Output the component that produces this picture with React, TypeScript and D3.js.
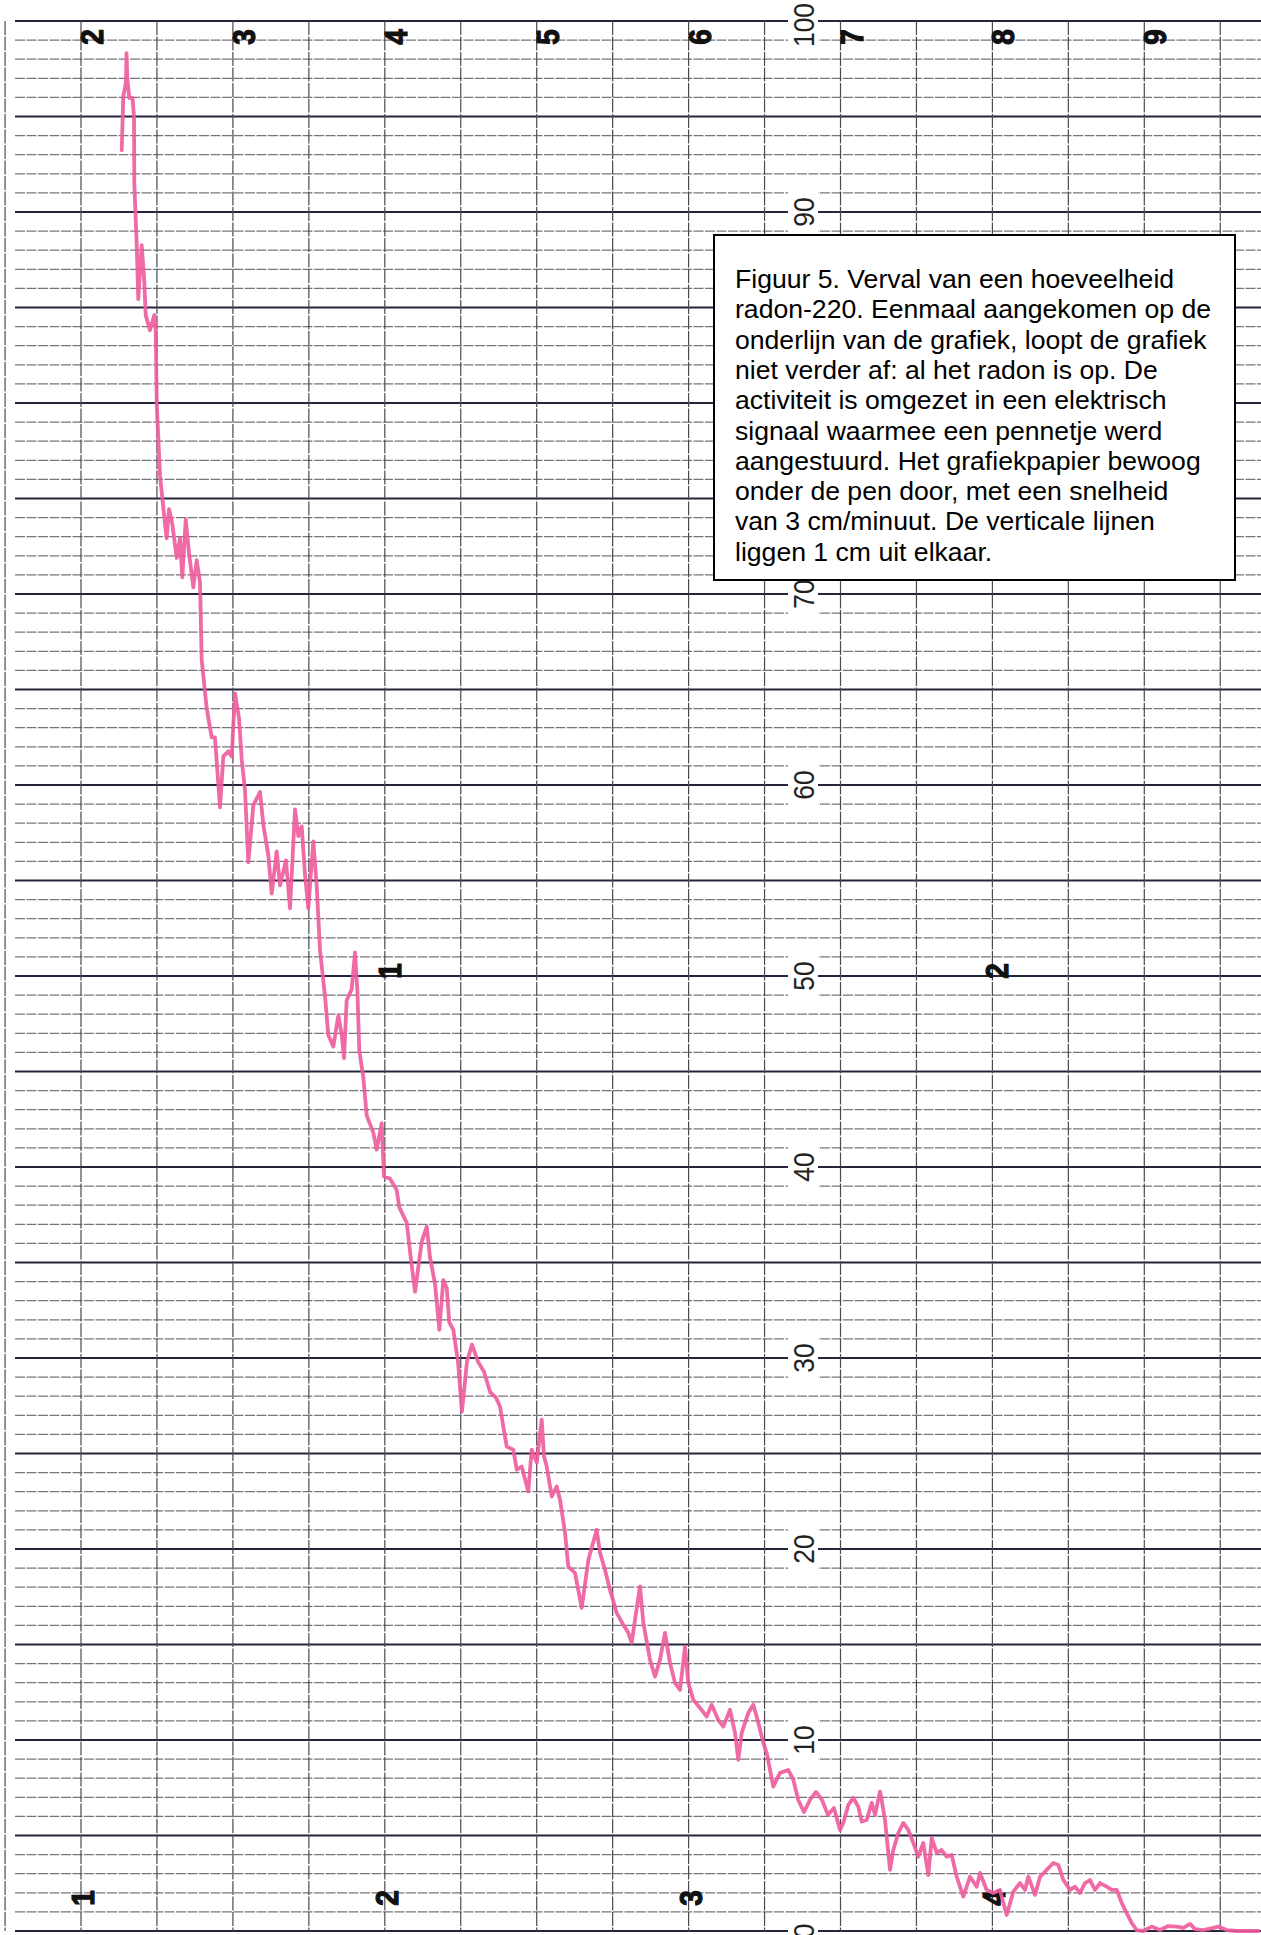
import React from "react";
import * as d3 from "d3";

// Recorder trace: time along the paper (cm, from the first vertical line) and activity (scale 0-100)
const timeCm = [
  0.536, 0.557, 0.593, 0.599, 0.61, 0.636, 0.678, 0.698, 0.702, 0.733, 0.754, 0.799, 0.833, 0.852, 0.908,
  0.965, 0.984, 0.997, 1.04, 1.106, 1.128, 1.159, 1.202, 1.26, 1.303, 1.334, 1.379, 1.422, 1.479, 1.523,
  1.567, 1.589, 1.655, 1.721, 1.764, 1.83, 1.874, 1.939, 1.984, 2.028, 2.08, 2.116, 2.159, 2.203, 2.269,
  2.357, 2.4, 2.466, 2.511, 2.577, 2.62, 2.699, 2.752, 2.818, 2.861, 2.906, 2.949, 2.993, 3.059, 3.103,
  3.147, 3.213, 3.256, 3.322, 3.388, 3.433, 3.463, 3.498, 3.564, 3.608, 3.638, 3.664, 3.717, 3.762, 3.849,
  3.893, 3.959, 3.989, 4.068, 4.157, 4.191, 4.288, 4.341, 4.398, 4.486, 4.552, 4.595, 4.661, 4.718, 4.77,
  4.815, 4.849, 4.902, 4.964, 5.016, 5.082, 5.148, 5.227, 5.306, 5.385, 5.464, 5.517, 5.56, 5.605, 5.692,
  5.737, 5.802, 5.889, 5.934, 6.0, 6.066, 6.096, 6.132, 6.198, 6.263, 6.307, 6.373, 6.416, 6.504, 6.593,
  6.68, 6.79, 6.833, 6.899, 6.965, 7.053, 7.14, 7.206, 7.251, 7.294, 7.36, 7.404, 7.492, 7.558, 7.623,
  7.689, 7.755, 7.821, 7.887, 7.953, 7.996, 8.062, 8.15, 8.238, 8.304, 8.391, 8.457, 8.545, 8.611, 8.654,
  8.699, 8.786, 8.852, 8.918, 8.984, 9.028, 9.115, 9.203, 9.313, 9.379, 9.444, 9.519, 9.598, 9.677, 9.756,
  9.835, 9.914, 9.993, 10.037, 10.103, 10.169, 10.234, 10.279, 10.345, 10.411, 10.454, 10.52, 10.542, 10.586, 10.652,
  10.695, 10.761, 10.827, 10.893, 10.959, 11.024, 11.09, 11.156, 11.201, 11.267, 11.332, 11.398, 11.464, 11.53, 11.617,
  11.705, 11.793, 11.837, 11.925, 12.012, 12.1, 12.188, 12.275, 12.363, 12.429, 12.473, 12.561, 12.627, 12.715, 12.802,
  12.868, 12.934, 13.022, 13.088, 13.153, 13.219, 13.285, 13.351, 13.417, 13.505, 13.571, 13.637, 13.702, 13.768, 13.834,
  13.9, 13.987, 14.097, 14.207, 14.316, 14.427, 14.514, 14.602, 14.668, 14.777, 14.909, 14.974, 15.085, 15.217, 15.348,
  15.501,
];
const activity = [
  93.24, 96.07, 96.8, 98.32, 96.96, 95.97, 95.97, 94.97, 91.46, 88.37, 85.44, 88.27, 86.38, 84.6, 83.81,
  84.6, 83.81, 80.02, 76.22, 73.67, 72.92, 74.44, 73.67, 71.89, 72.92, 70.87, 73.91, 72.13, 70.35, 71.77,
  70.61, 66.55, 64.01, 62.49, 62.49, 58.83, 61.5, 61.76, 61.5, 64.8, 63.51, 61.34, 59.74, 55.95, 58.93,
  59.64, 57.94, 56.33, 54.32, 56.52, 54.74, 56.05, 53.54, 58.72, 57.33, 57.83, 55.32, 53.54, 57.05, 54.74,
  51.34, 48.93, 46.91, 46.31, 47.93, 46.91, 45.7, 48.72, 49.31, 51.23, 49.31, 46.1, 44.7, 42.69, 41.8,
  40.91, 42.29, 39.5, 39.39, 38.79, 37.89, 37.09, 35.28, 33.47, 36.09, 36.88, 35.28, 33.89, 31.48, 34.08,
  33.68, 31.87, 31.48, 29.81, 27.19, 29.81, 30.7, 29.81, 29.28, 28.23, 27.92, 27.46, 26.42, 25.37, 25.2,
  24.15, 24.32, 23.01, 25.2, 24.52, 26.77, 24.85, 24.32, 22.75, 23.27, 22.58, 20.85, 19.08, 18.75, 16.92,
  19.43, 21.01, 19.8, 18.91, 17.86, 16.66, 16.03, 15.61, 15.09, 16.29, 18.04, 16.13, 14.2, 13.32, 14.2,
  15.61, 14.04, 12.99, 12.62, 14.89, 12.99, 12.1, 11.68, 11.23, 11.84, 11.05, 10.7, 11.58, 10.37, 8.96,
  10.37, 11.42, 11.84, 10.9, 9.85, 9.32, 7.56, 8.28, 8.43, 7.91, 6.86, 6.23, 6.86, 7.28, 6.86,
  6.08, 6.44, 5.29, 5.66, 6.6, 6.97, 6.51, 5.73, 5.81, 6.71, 6.08, 7.3, 6.86, 5.81, 3.2,
  4.24, 5.13, 5.66, 5.29, 4.61, 3.89, 4.61, 2.93, 4.87, 4.09, 4.24, 3.89, 3.98, 2.84, 1.8,
  2.84, 2.32, 3.04, 2.15, 1.99, 2.15, 0.84, 2.06, 2.51, 2.15, 2.84, 1.89, 2.84, 3.2, 3.56,
  3.46, 2.67, 2.15, 2.32, 1.99, 2.51, 2.67, 2.15, 2.51, 2.32, 2.15, 2.15, 1.47, 0.94, 0.42,
  0.05, 0, 0.23, 0.05, 0.26, 0.23, 0.16, 0.37, 0.1, 0.05, 0.16, 0.23, 0.05, 0, 0,
  0,
];

// Printed paper markings
const verticalLineCm = d3.range(-1, 16);
const horizontalLineUnits = d3.range(0, 101);
const scaleTicks = [0, 10, 20, 30, 40, 50, 60, 70, 80, 90, 100];
const topLabels = ["2", "3", "4", "5", "6", "7", "8", "9"];
const topLabelCm = [0, 2, 4, 6, 8, 10, 12, 14];
const midLabels = ["1", "2"];
const midLabelCm = [4, 12];
const bottomLabels = ["1", "2", "3", "4"];
const bottomLabelCm = [0, 4, 8, 12];

const captionLines = [
  "Figuur 5. Verval van een hoeveelheid",
  "radon-220. Eenmaal aangekomen op de",
  "onderlijn van de grafiek, loopt de grafiek",
  "niet verder af: al het radon is op. De",
  "activiteit is omgezet in een elektrisch",
  "signaal waarmee een pennetje werd",
  "aangestuurd. Het grafiekpapier bewoog",
  "onder de pen door, met een snelheid",
  "van 3 cm/minuut. De verticale lijnen",
  "liggen 1 cm uit elkaar.",
];

const W = 1261;
const H = 1935;
const FONT = "'Liberation Sans', Arial, sans-serif";

export default function App() {
  const x = d3.scaleLinear().domain([0, 15]).range([81, 81 + 15 * 75.95]);
  const y = d3.scaleLinear().domain([0, 100]).range([1931, 21]);

  const pts = timeCm.map((t, i) => [t, activity[i]] as [number, number]);
  const line = d3
    .line<[number, number]>()
    .x((d) => x(d[0]))
    .y((d) => y(d[1]));

  const labelX = 803;

  const boldDigit = (key: string, s: string, cx: number, cy: number) => (
    <text
      key={key}
      transform={`translate(${cx},${cy}) rotate(-90) scale(0.9,1)`}
      textAnchor="middle"
      dominantBaseline="central"
      fontFamily={FONT}
      fontWeight="bold"
      fontSize={31}
      fill="#111"
      stroke="#111"
      strokeWidth={1.2}
    >
      {s}
    </text>
  );

  return (
    <div style={{ position: "absolute", left: 0, top: 0 }}>
      <svg width={W} height={H} style={{ display: "block", background: "#fff" }}>
        <rect x={0} y={0} width={W} height={H} fill="#fff" />
        {/* horizontal lines */}
        {horizontalLineUnits.map((v) => {
          const thick = v % 5 === 0;
          return (
            <line
              key={"h" + v}
              x1={15}
              x2={W}
              y1={y(v)}
              y2={y(v)}
              stroke={thick ? "#23263a" : "#78747e"}
              strokeWidth={thick ? 2.2 : 1.2}
              strokeDasharray={thick ? undefined : "10 1.5"}
            />
          );
        })}
        {/* vertical lines */}
        {verticalLineCm.map((t) => (
          <line
            key={"v" + t}
            x1={x(t)}
            x2={x(t)}
            y1={y(100)}
            y2={y(0)}
            stroke="#4a4a50"
            strokeWidth={1.2}
            strokeDasharray="14 1.5"
          />
        ))}
        {/* scale labels */}
        {scaleTicks.map((v) => (
          <g key={"s" + v} transform={`translate(${labelX},${y(v) + (v === 100 ? 4 : 0)})`}>
            <rect x={-15} y={-(String(v).length * 8 + 4)} width={30} height={String(v).length * 16 + 8} fill="#fff" />
            <text
              transform="rotate(-90) scale(0.88,1)"
              textAnchor="middle"
              dominantBaseline="central"
              fontFamily={FONT}
              fontSize={30}
              fill="#222"
            >
              {v}
            </text>
          </g>
        ))}
        {/* bold printed digits */}
        {topLabels.map((s, i) => boldDigit("t" + i, s, x(topLabelCm[i]) + 11, 37))}
        {midLabels.map((s, i) => boldDigit("m" + i, s, x(midLabelCm[i]) + 5, 971))}
        {bottomLabels.map((s, i) => boldDigit("b" + i, s, x(bottomLabelCm[i]) + 2, 1898))}
        {/* trace */}
        <path
          d={line(pts) || ""}
          fill="none"
          stroke="#ee5a9b"
          strokeWidth={3.8}
          strokeLinejoin="round"
          strokeLinecap="round"
          opacity={0.9}
        />
        {/* caption box */}
        <rect x={714} y={235} width={521} height={345} fill="#fff" stroke="#000" strokeWidth={2} />
        {captionLines.map((s, i) => (
          <text key={"c" + i} x={735} y={288 + i * 30.3} fontFamily={FONT} fontSize={26.6} fill="#000">
            {s}
          </text>
        ))}
      </svg>
    </div>
  );
}
